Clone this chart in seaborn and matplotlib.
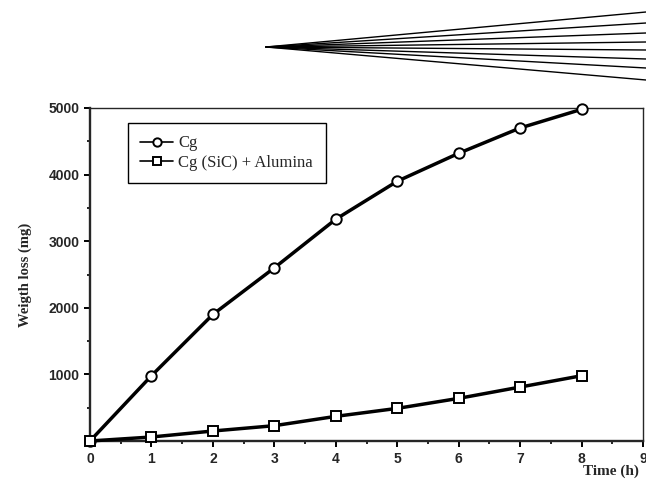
import pandas as pd
import seaborn as sns
import matplotlib.pyplot as plt
from matplotlib.lines import Line2D

# --- Data ---
time_h = [0, 1, 2, 3, 4, 5, 6, 7, 8]
cg_loss = [0, 980, 1900, 2600, 3330, 3900, 4320, 4700, 4980]
alumina_loss = [0, 60, 150, 230, 370, 490, 640, 810, 980]
series_names = ["Cg", "Cg (SiC) + Alumina"]

df = pd.DataFrame({
    "time": time_h * 2,
    "loss": cg_loss + alumina_loss,
    "series": [series_names[0]] * len(time_h) + [series_names[1]] * len(time_h),
})

sns.set_style("ticks")
plt.rcParams['font.family'] = ['Liberation Sans', 'DejaVu Sans']

W, H = 646, 479
fig = plt.figure(figsize=(W / 100, H / 100), dpi=100)
ax = fig.add_axes([90 / W, 1 - 441 / H, 553 / W, (441 - 108) / H])

markers = {"Cg": "o", "Cg (SiC) + Alumina": "s"}
for name in series_names:
    sub = df[df["series"] == name]
    sns.lineplot(data=sub, x="time", y="loss", ax=ax, color="black",
                 linewidth=2.5, marker=markers[name], markersize=7.5,
                 markerfacecolor="white", markeredgecolor="black",
                 markeredgewidth=1.4, label=name, clip_on=False, zorder=3)

ax.set_xlim(0, 9)
ax.set_ylim(0, 5000)
ax.set_xticks(range(0, 10))
ax.set_xticks([x + 0.5 for x in range(0, 9)], minor=True)
ax.set_yticks([1000, 2000, 3000, 4000, 5000])
ax.set_yticks([500, 1500, 2500, 3500, 4500], minor=True)
ax.tick_params(axis="both", which="major", direction="out", length=4, width=1.4,
               labelsize=10, color="black")
ax.tick_params(axis="both", which="minor", direction="out", length=2, width=1.2,
               color="black")
for lab in ax.get_xticklabels() + ax.get_yticklabels():
    lab.set_fontweight("bold")
ax.tick_params(axis="x", pad=4)

for side in ["left", "bottom"]:
    ax.spines[side].set_linewidth(1.7)
for side in ["top", "right"]:
    ax.spines[side].set_linewidth(1.0)
    ax.spines[side].set_visible(True)

serif = ['Liberation Serif', 'DejaVu Serif']
ax.set_ylabel("Weigth loss (mg)", family=serif, fontweight="bold", fontsize=10.5,
              labelpad=12)
ax.set_xlabel("Time (h)", family=serif, fontweight="bold", fontsize=11,
              loc="right", labelpad=-1)
ax.xaxis.label.set_x(0.993)

leg = ax.legend(loc="upper left", bbox_to_anchor=(0.068, 0.955), frameon=True,
                fancybox=False, edgecolor="black", framealpha=1,
                prop={"family": serif, "size": 12}, handlelength=2.0,
                handletextpad=0.3, borderpad=0.75, labelspacing=0.2,
                borderaxespad=0)
leg.get_frame().set_linewidth(1.0)
for h in leg.legend_handles:
    h.set_linewidth(1.2)
    h.set_markersize(6)

# fan of lines at the top of the scanned page
fan_ends = [12, 23, 33, 42, 50, 59, 68, 80]
for yend in fan_ends:
    fig.add_artist(Line2D([266 / W, 1.0], [1 - 47 / H, 1 - yend / H],
                          color="black", linewidth=1.0, transform=fig.transFigure))

fig.savefig("out.png", dpi=100)
